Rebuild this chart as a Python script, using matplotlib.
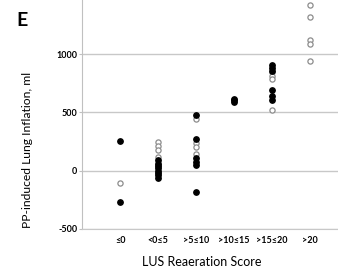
import matplotlib.pyplot as plt

plt.rcParams['font.family'] = ['Lato', 'DejaVu Sans']

# categories of the LUS reaeration score
categories = ['≤0', '<0≤5', '>5≤10', '>10≤15', '>15≤20', '>20']

# filled markers (black) and open markers (grey ring), per category, in ml
filled_vals = [
    [255, -272],
    [90, 60, 40, 20, 0, -20, -40, -65],
    [480, 270, 110, 75, 50, -186],
    [590, 603, 615],
    [905, 880, 860, 690, 645, 605],
    [],
]
open_vals = [
    [-108],
    [245, 210, 180, 115, 70],
    [440, 240, 200, 145],
    [],
    [845, 815, 790, 525],
    [1420, 1315, 1120, 1085, 940],
]

fig = plt.figure(figsize=(3.38, 2.71), dpi=100)
ax = fig.add_axes([0.2426, 0.155, 0.77, 0.86])

for i, vals in enumerate(open_vals):
    ax.scatter([i] * len(vals), vals, s=14, facecolor='white',
               edgecolor='#8c8c8c', linewidth=0.9, zorder=3)
for i, vals in enumerate(filled_vals):
    ax.scatter([i] * len(vals), vals, s=15, color='black', zorder=4)

ax.set_xlim(-1, 5.85)
ax.set_ylim(-500, 1500)
ax.set_yticks([-500, 0, 500, 1000, 1500])
ax.set_yticklabels(['-500', '0', '500', '1000', '1500'], fontsize=6.5, fontweight='bold')
ax.set_xticks(range(len(categories)))
ax.set_xticklabels(categories, fontsize=6.5, fontweight='bold')
ax.grid(axis='y', color='#c8c8c8', linewidth=1)
ax.set_axisbelow(True)

for side in ['top', 'right']:
    ax.spines[side].set_visible(False)
ax.spines['left'].set_color('#c0c0c0')
ax.spines['bottom'].set_color('#c8c8c8')
ax.tick_params(axis='y', length=2.5, width=0.8, color='#c0c0c0', pad=1)
ax.tick_params(axis='x', length=0, pad=5)

ax.set_xlabel('LUS Reaeration Score', fontsize=9)
ax.xaxis.set_label_coords(0.46, -0.115)
fig.text(0.08, 0.446, 'PP-induced Lung Inflation, ml', fontsize=8.7,
         rotation=90, ha='center', va='center')
fig.text(0.065, 0.926, 'E', fontsize=14, fontweight='bold', va='center', ha='center')

fig.savefig('out.png', dpi=100)
